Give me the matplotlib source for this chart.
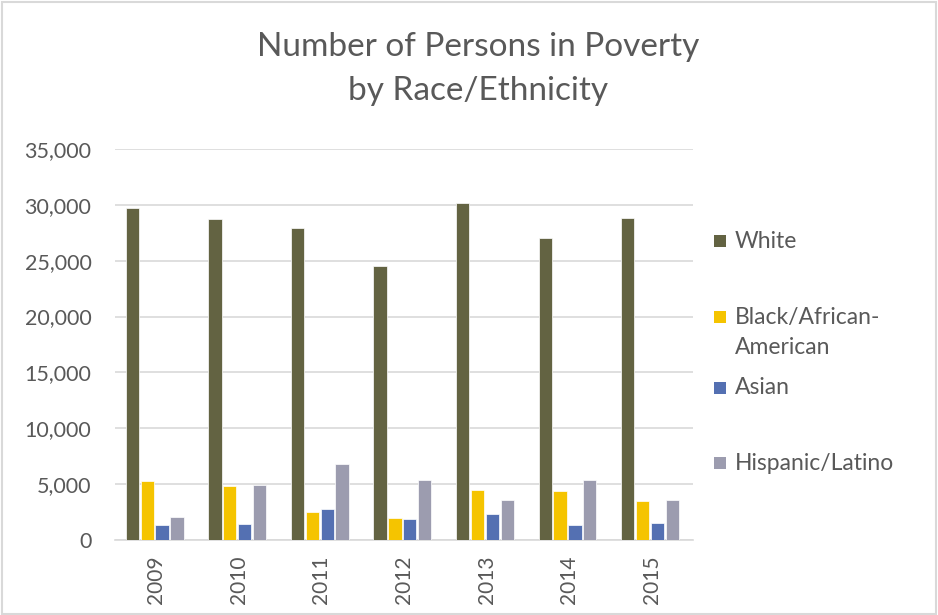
import matplotlib
matplotlib.use("Agg")
import matplotlib.pyplot as plt
import numpy as np
from matplotlib.patches import Rectangle
from matplotlib.ticker import FuncFormatter

years = ["2009", "2010", "2011", "2012", "2013", "2014", "2015"]
series_names = ["White", "Black/African-\nAmerican", "Asian", "Hispanic/Latino"]
white = [29700, 28700, 27900, 24500, 30200, 27000, 28800]
black = [5300, 4850, 2550, 2000, 4500, 4400, 3450]
asian = [1300, 1450, 2800, 1900, 2350, 1300, 1550]
hispanic = [2100, 4950, 6800, 5400, 3600, 5400, 3600]
colors = ["#636342", "#F5C400", "#5470B2", "#9C9CAF"]

plt.rcParams['font.family'] = ['Lato', 'DejaVu Sans']
text_color = "#595959"

fig = plt.figure(figsize=(9.38, 6.15), dpi=100)
fig.patches.append(Rectangle((0.002, 0.002), 0.996, 0.994, transform=fig.transFigure,
                             fill=False, edgecolor="#D9D9D9", linewidth=1.5))

ax = fig.add_axes([115/938, 1-540/615, 578/938, 391/615])
x = np.arange(len(years))
data = [white, black, asian, hispanic]
width = 0.16
step = 0.18
for i, (vals, c) in enumerate(zip(data, colors)):
    ax.bar(x + (i - 1.5) * step - 0.02, vals, width=width, color=c, edgecolor="white",
           linewidth=0.5, zorder=3)

ax.set_xlim(-0.5, len(years) - 0.5)
ax.set_ylim(0, 35000)
ax.set_yticks(np.arange(0, 35001, 5000))
ax.yaxis.set_major_formatter(FuncFormatter(lambda v, p: f"{int(v):,}"))
ax.set_xticks(x)
ax.set_xticklabels(years, rotation=90)
ax.grid(axis="y", color="#D9D9D9", linewidth=1.2, zorder=0)
for s in ["top", "right", "left"]:
    ax.spines[s].set_visible(False)
ax.spines["bottom"].set_color("#D9D9D9")
ax.spines["bottom"].set_linewidth(1.2)
ax.tick_params(axis="both", length=0, colors=text_color)
ax.tick_params(axis="y", pad=17, labelsize=15.5)
ax.tick_params(axis="x", pad=11, labelsize=15)

fig.text(478/938, 1-47/615, "Number of Persons in Poverty", ha="center", va="center",
         fontsize=24, color=text_color)
fig.text(478/938, 1-91/615, "by Race/Ethnicity", ha="center", va="center",
         fontsize=24, color=text_color)

legend_y = [241, 317, 388, 463]
for name, c, yy in zip(series_names, colors, legend_y):
    fig.patches.append(Rectangle((714/938, 1-(yy+6)/615), 12/938, 12/615,
                                 transform=fig.transFigure, facecolor=c, edgecolor="none"))
    for k, line in enumerate(name.split("\n")):
        fig.text(735/938, 1-(yy + 30*k)/615, line, ha="left", va="center",
                 fontsize=16.5, color=text_color)

fig.savefig("out.png", dpi=100)
